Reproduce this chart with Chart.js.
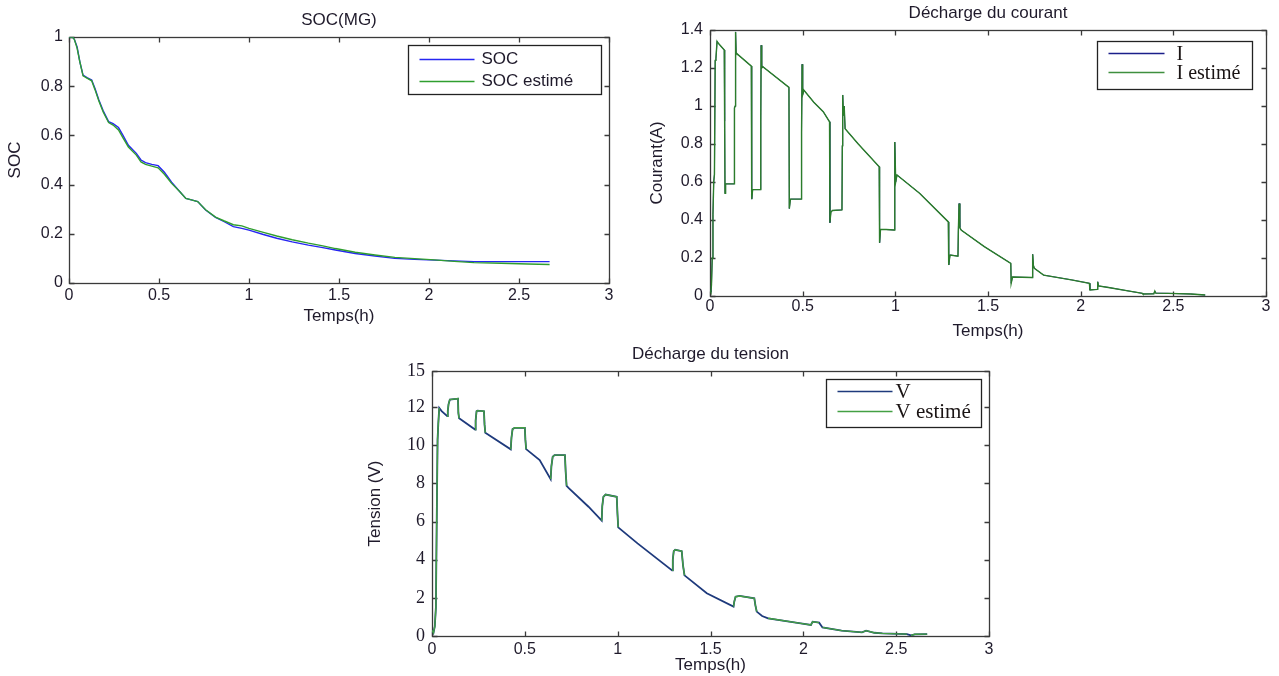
<!DOCTYPE html>
<html><head><meta charset="utf-8">
<script src="https://cdn.jsdelivr.net/npm/chart.js@4.4.0/dist/chart.umd.min.js"></script>
<style>
html,body{margin:0;padding:0;background:#fff;width:1279px;height:676px;overflow:hidden;position:relative;}
canvas{position:absolute;}
</style></head><body>
<canvas id="c1" width="630" height="330" style="left:0px;top:0px;width:630px;height:330px"></canvas>
<canvas id="c2" width="649" height="342" style="left:630px;top:0px;width:649px;height:342px"></canvas>
<canvas id="c3" width="640" height="336" style="left:360px;top:340px;width:640px;height:336px"></canvas>
<script>
// ---------- data ----------
const xTickStep = 0.5;          // Temps(h) axis: 0 .. 3
const timeMax = 3;

// SOC(MG)
const socTime = [0, 0.02, 0.03, 0.045, 0.06, 0.078, 0.1, 0.126, 0.145, 0.166, 0.19, 0.22, 0.245, 0.275, 0.3, 0.33, 0.374, 0.4, 0.425, 0.46, 0.495, 0.53, 0.57, 0.616, 0.649, 0.68, 0.715, 0.759, 0.814, 0.86, 0.913, 0.96, 1.0, 1.08, 1.154, 1.24, 1.33, 1.41, 1.48, 1.59, 1.7, 1.81, 1.92, 2.03, 2.14, 2.25, 2.4, 2.55, 2.67];
const socMeasured = [1, 1, 0.99, 0.96, 0.9, 0.845, 0.835, 0.825, 0.79, 0.744, 0.7, 0.656, 0.648, 0.632, 0.6, 0.56, 0.527, 0.5, 0.489, 0.482, 0.477, 0.45, 0.41, 0.371, 0.344, 0.338, 0.331, 0.297, 0.267, 0.25, 0.229, 0.222, 0.215, 0.197, 0.182, 0.167, 0.154, 0.144, 0.134, 0.12, 0.11, 0.1, 0.096, 0.093, 0.09, 0.087, 0.087, 0.087, 0.087];
const socEstimated = [1, 1, 0.99, 0.955, 0.9, 0.842, 0.833, 0.822, 0.785, 0.74, 0.695, 0.652, 0.642, 0.622, 0.59, 0.553, 0.52, 0.492, 0.482, 0.475, 0.468, 0.442, 0.405, 0.371, 0.344, 0.338, 0.331, 0.298, 0.268, 0.253, 0.237, 0.232, 0.222, 0.206, 0.191, 0.176, 0.162, 0.151, 0.14, 0.125, 0.114, 0.104, 0.099, 0.094, 0.088, 0.083, 0.08, 0.077, 0.075];

// Décharge du courant
const curTime = [0, 0.005, 0.008, 0.012, 0.016, 0.02, 0.024, 0.028, 0.032, 0.038, 0.045, 0.077, 0.079, 0.081, 0.084, 0.131, 0.132, 0.136, 0.138, 0.141, 0.143, 0.223, 0.225, 0.23, 0.272, 0.274, 0.276, 0.279, 0.285, 0.426, 0.428, 0.434, 0.492, 0.494, 0.497, 0.5, 0.506, 0.56, 0.611, 0.645, 0.647, 0.652, 0.66, 0.712, 0.714, 0.716, 0.72, 0.724, 0.729, 0.8, 0.913, 0.915, 0.92, 0.95, 0.994, 0.996, 0.998, 1.002, 1.009, 1.132, 1.286, 1.288, 1.295, 1.338, 1.34, 1.344, 1.348, 1.355, 1.48, 1.623, 1.625, 1.632, 1.738, 1.741, 1.745, 1.75, 1.8, 1.95, 2.047, 2.05, 2.09, 2.092, 2.096, 2.15, 2.248, 2.333, 2.336, 2.395, 2.4, 2.405, 2.472, 2.594, 2.672];
const curMeasured = [0.03, 0.02, 0.06, 0.2, 0.43, 0.6, 0.64, 1.24, 1.25, 1.34, 1.33, 1.295, 0.92, 0.54, 0.59, 0.59, 0.99, 1.0, 1.39, 1.28, 1.277, 1.21, 0.51, 0.56, 0.56, 0.93, 1.32, 1.2, 1.207, 1.098, 0.46, 0.51, 0.51, 0.86, 1.22, 1.06, 1.084, 1.02, 0.97, 0.917, 0.386, 0.44, 0.45, 0.453, 0.79, 1.058, 0.95, 1.0, 0.88, 0.8, 0.68, 0.28, 0.35, 0.35, 0.347, 0.57, 0.81, 0.6, 0.637, 0.54, 0.39, 0.163, 0.216, 0.21, 0.34, 0.487, 0.36, 0.347, 0.26, 0.172, 0.067, 0.1, 0.097, 0.22, 0.16, 0.146, 0.11, 0.085, 0.067, 0.032, 0.035, 0.075, 0.053, 0.045, 0.028, 0.014, 0.0105, 0.012, 0.026, 0.015, 0.014, 0.0105, 0.005];
const curEstimated = [0.03, 0.02, 0.06, 0.2, 0.43, 0.6, 0.64, 1.24, 1.25, 1.34, 1.33, 1.295, 0.92, 0.54, 0.59, 0.59, 0.99, 1.0, 1.39, 1.28, 1.277, 1.21, 0.51, 0.56, 0.56, 0.93, 1.32, 1.2, 1.207, 1.098, 0.46, 0.51, 0.51, 0.86, 1.22, 1.06, 1.084, 1.02, 0.97, 0.917, 0.386, 0.44, 0.45, 0.453, 0.79, 1.058, 0.95, 1.0, 0.88, 0.8, 0.68, 0.28, 0.35, 0.35, 0.347, 0.57, 0.81, 0.6, 0.637, 0.54, 0.39, 0.163, 0.216, 0.21, 0.34, 0.487, 0.36, 0.347, 0.26, 0.172, 0.067, 0.1, 0.097, 0.22, 0.16, 0.146, 0.11, 0.085, 0.067, 0.032, 0.035, 0.075, 0.053, 0.045, 0.028, 0.014, 0.0105, 0.012, 0.026, 0.015, 0.014, 0.0105, 0.005];

// Décharge du tension
const voltTime = [0, 0.008, 0.015, 0.021, 0.025, 0.03, 0.034, 0.039, 0.052, 0.082, 0.085, 0.089, 0.096, 0.14, 0.142, 0.146, 0.232, 0.235, 0.24, 0.245, 0.28, 0.283, 0.287, 0.424, 0.428, 0.434, 0.445, 0.5, 0.503, 0.507, 0.58, 0.639, 0.643, 0.65, 0.66, 0.716, 0.72, 0.725, 0.738, 0.843, 0.914, 0.917, 0.923, 0.935, 0.995, 0.999, 1.003, 1.107, 1.293, 1.297, 1.302, 1.31, 1.345, 1.352, 1.36, 1.48, 1.624, 1.628, 1.635, 1.657, 1.736, 1.742, 1.749, 1.778, 1.81, 1.986, 2.041, 2.05, 2.085, 2.103, 2.206, 2.316, 2.338, 2.382, 2.426, 2.558, 2.58, 2.6, 2.667];
const voltMeasured = [0.3, 0.17, 0.5, 1.5, 5.6, 10.3, 11.15, 11.96, 11.8, 11.53, 11.8, 12.15, 12.4, 12.45, 11.7, 11.42, 10.83, 11.3, 11.79, 11.82, 11.79, 11.1, 10.66, 9.79, 10.4, 10.85, 10.92, 10.92, 10.3, 9.8, 9.23, 8.23, 8.9, 9.4, 9.49, 9.49, 8.6, 7.88, 7.74, 6.78, 6.05, 6.8, 7.3, 7.42, 7.3, 6.4, 5.7, 4.86, 3.44, 4.0, 4.45, 4.52, 4.45, 3.7, 3.18, 2.24, 1.54, 1.8, 2.06, 2.1, 1.98, 1.6, 1.28, 1.05, 0.93, 0.66, 0.58, 0.75, 0.7, 0.45, 0.28, 0.19, 0.28, 0.17, 0.14, 0.1, 0.03, 0.09, 0.1];
const voltEstimated = [0.3, 0.17, 0.5, 1.5, 5.6, 10.3, 11.15, 11.96, 11.8, 11.53, 11.8, 12.15, 12.4, 12.45, 11.7, 11.42, 10.83, 11.3, 11.79, 11.82, 11.79, 11.1, 10.66, 9.79, 10.4, 10.85, 10.92, 10.92, 10.3, 9.8, 9.23, 8.23, 8.9, 9.4, 9.49, 9.49, 8.6, 7.88, 7.74, 6.78, 6.05, 6.8, 7.3, 7.42, 7.3, 6.4, 5.7, 4.86, 3.44, 4.0, 4.45, 4.52, 4.45, 3.7, 3.18, 2.24, 1.54, 1.8, 2.06, 2.1, 1.98, 1.6, 1.28, 1.05, 0.93, 0.66, 0.58, 0.75, 0.7, 0.45, 0.28, 0.19, 0.28, 0.17, 0.14, 0.1, 0.03, 0.09, 0.1];
// the tension axis of the original: ticks 0..12 by 2, its top edge labelled "15"
const voltAxisTop = 13.9;
const voltTickValues = [0, 2, 4, 6, 8, 10, 12, 13.9];
const voltTickLabels = ['0', '2', '4', '6', '8', '10', '12', '15'];

// ---------- helpers ----------
const SANS = 'Liberation Sans';
const SERIF = 'Liberation Serif';
const TXT = '#1f1a2b';
const pts = (xs, ys) => xs.map((x, i) => ({x, y: ys[i]}));
const plainNum = v => String(Math.round(v * 1000) / 1000);

const matlabFrame = {
  id: 'matlabFrame',
  beforeDatasetsDraw(chart, args, o) {
    const {ctx, chartArea: a, scales} = chart;
    const L = Math.round(a.left) + 0.5, R = Math.round(a.right) + 0.5;
    const T = Math.round(a.top) + 0.5, B = Math.round(a.bottom) + 0.5;
    ctx.save();
    ctx.strokeStyle = o.color; ctx.lineWidth = o.width;
    ctx.strokeRect(L, T, R - L, B - T);
    ctx.beginPath();
    scales.x.ticks.forEach(t => {
      const p = Math.round(scales.x.getPixelForValue(t.value)) + 0.5;
      ctx.moveTo(p, B); ctx.lineTo(p, B - o.len);
      ctx.moveTo(p, T); ctx.lineTo(p, T + o.len);
    });
    scales.y.ticks.forEach(t => {
      const p = Math.round(scales.y.getPixelForValue(t.value)) + 0.5;
      ctx.moveTo(L, p); ctx.lineTo(L + o.len, p);
      ctx.moveTo(R, p); ctx.lineTo(R - o.len, p);
    });
    ctx.stroke();
    ctx.restore();
  }
};

const boxLegend = {
  id: 'boxLegend',
  afterDraw(chart, args, o) {
    const {ctx, chartArea: a} = chart;
    const x0 = Math.round(a.right - o.insetRight - o.width) + 0.5;
    const y0 = Math.round(a.top + o.insetTop) + 0.5;
    ctx.save();
    ctx.fillStyle = '#fff';
    ctx.fillRect(x0, y0, o.width, o.height);
    ctx.strokeStyle = o.borderColor; ctx.lineWidth = o.borderWidth;
    ctx.strokeRect(x0, y0, o.width, o.height);
    ctx.font = o.font; ctx.textBaseline = 'middle'; ctx.textAlign = 'left';
    chart.data.datasets.forEach((ds, i) => {
      const y = Math.round(y0 + o.rows[i]) + 0.5;
      ctx.strokeStyle = ds.legendColor || ds.borderColor;
      ctx.lineWidth = o.lineWidth;
      ctx.beginPath();
      ctx.moveTo(x0 + o.lineStart, y); ctx.lineTo(x0 + o.lineStart + o.lineLen, y);
      ctx.stroke();
      ctx.fillStyle = o.textColor;
      ctx.fillText(ds.label, x0 + o.textStart, y + o.textDy);
    });
    ctx.restore();
  }
};

function xScale(h, tickPad, titlePadBottom, tickFont) {
  return {
    type: 'linear', min: 0, max: timeMax,
    ticks: {stepSize: xTickStep, padding: tickPad, color: TXT, font: tickFont, maxRotation: 0, callback: plainNum},
    grid: {display: false, drawTicks: false},
    border: {display: false},
    title: {display: true, text: 'Temps(h)', color: TXT, font: {family: SANS, size: 17},
            padding: {top: 0, bottom: titlePadBottom}},
    afterFit: s => { s.height = h; }
  };
}

// ---------- chart 1 : SOC(MG) ----------
new Chart(document.getElementById('c1'), {
  type: 'line',
  data: {datasets: [
    {label: 'SOC', data: pts(socTime, socMeasured), borderColor: '#2626f2', borderWidth: 1.4, pointRadius: 0, order: 1},
    {label: 'SOC estimé', data: pts(socTime, socEstimated), borderColor: '#2f9e2f', borderWidth: 1.4, pointRadius: 0, order: 0}
  ]},
  options: {
    responsive: false, animation: false, events: [],
    layout: {padding: {left: 0, right: 21, top: 0, bottom: 0}},
    scales: {
      x: xScale(47, 3.1, 3.3, {family: SANS, size: 16}),
      y: {
        type: 'linear', min: 0, max: 1,
        ticks: {stepSize: 0.2, padding: 6, color: TXT, font: {family: SANS, size: 16}, callback: plainNum},
        grid: {display: false, drawTicks: false}, border: {display: false},
        title: {display: true, text: 'SOC', color: TXT, font: {family: SANS, size: 17}, padding: {top: 5.3, bottom: 0}},
        afterFit: s => { s.width = 69; }
      }
    },
    plugins: {
      legend: {display: false}, tooltip: {enabled: false},
      title: {display: true, text: 'SOC(MG)', fullSize: false, color: TXT, font: {family: SANS, size: 17, weight: 'normal'}, padding: {top: 9.8, bottom: 6.8}},
      matlabFrame: {color: '#3a3a3a', width: 1.3, len: 5},
      boxLegend: {width: 193, height: 49, insetRight: 8, insetTop: 8, borderColor: '#222', borderWidth: 1.3,
                  font: '17px "Liberation Sans"', textColor: TXT, rows: [13.7, 35.7], lineStart: 11, lineLen: 55, lineWidth: 1.6, textStart: 73, textDy: 0}
    }
  },
  plugins: [matlabFrame, boxLegend]
});

// ---------- chart 2 : Décharge du courant ----------
new Chart(document.getElementById('c2'), {
  type: 'line',
  data: {datasets: [
    {label: 'I', data: pts(curTime, curMeasured), borderColor: '#1b1f8a', borderWidth: 0.9, pointRadius: 0, order: 1},
    {label: 'I estimé', data: pts(curTime, curEstimated), borderColor: '#2b7d2b', borderWidth: 1.4, pointRadius: 0, order: 0, legendColor: '#3f8f3f'}
  ]},
  options: {
    responsive: false, animation: false, events: [],
    layout: {padding: {left: 0, right: 13, top: 0, bottom: 0}},
    scales: {
      x: xScale(46, 1.4, 0.8, {family: SANS, size: 16}),
      y: {
        type: 'linear', min: 0, max: 1.4,
        ticks: {stepSize: 0.2, padding: 7, color: TXT, font: {family: SANS, size: 16}, callback: plainNum},
        grid: {display: false, drawTicks: false}, border: {display: false},
        title: {display: true, text: 'Courant(A)', color: TXT, font: {family: SANS, size: 17}, padding: {top: 17.4, bottom: 0}},
        afterFit: s => { s.width = 80; }
      }
    },
    plugins: {
      legend: {display: false}, tooltip: {enabled: false},
      title: {display: true, text: 'Décharge du courant', fullSize: false, color: TXT, font: {family: SANS, size: 17, weight: 'normal'}, padding: {top: 2.8, bottom: 6.8}},
      matlabFrame: {color: '#3a3a3a', width: 1.3, len: 5},
      boxLegend: {width: 155, height: 48, insetRight: 14, insetTop: 11, borderColor: '#222', borderWidth: 1.3,
                  font: '20px "Liberation Serif"', textColor: '#1a1414', rows: [11.7, 30.3], lineStart: 11, lineLen: 56, lineWidth: 1.4, textStart: 79, textDy: 1}
    }
  },
  plugins: [matlabFrame, boxLegend]
});

// ---------- chart 3 : Décharge du tension ----------
const vGreen = '#43a043';
new Chart(document.getElementById('c3'), {
  type: 'line',
  data: {datasets: [
    {label: 'V', data: pts(voltTime, voltMeasured), borderColor: '#1e3a7c', borderWidth: 1.8, pointRadius: 0, order: 1},
    {label: 'V estimé', data: pts(voltTime, voltEstimated), borderColor: vGreen, borderWidth: 1.4, pointRadius: 0, order: 0,
     segment: {borderColor: c => {
        const dx = c.p1.parsed.x - c.p0.parsed.x, dy = c.p1.parsed.y - c.p0.parsed.y;
        return (dx > 0.012 && dy / dx < -2.5) ? 'rgba(0,0,0,0)' : vGreen;
     }}}
  ]},
  options: {
    responsive: false, animation: false, events: [],
    layout: {padding: {left: 0, right: 11, top: 0, bottom: 0}},
    scales: {
      x: xScale(40, 4.4, 0, {family: SANS, size: 16}),
      y: {
        type: 'linear', min: 0, max: voltAxisTop,
        afterBuildTicks: s => { s.ticks = voltTickValues.map(v => ({value: v})); },
        ticks: {padding: 7, color: TXT, font: {family: SERIF, size: 18}, callback: (v, i) => voltTickLabels[i]},
        grid: {display: false, drawTicks: false}, border: {display: false},
        title: {display: true, text: 'Tension (V)', color: TXT, font: {family: SANS, size: 17}, padding: {top: 4.8, bottom: 0}},
        afterFit: s => { s.width = 72; }
      }
    },
    plugins: {
      legend: {display: false}, tooltip: {enabled: false},
      title: {display: true, text: 'Décharge du tension', fullSize: false, color: TXT, font: {family: SANS, size: 17, weight: 'normal'}, padding: {top: 3.8, bottom: 6.8}},
      matlabFrame: {color: '#3a3a3a', width: 1.3, len: 5},
      boxLegend: {width: 155, height: 48, insetRight: 8, insetTop: 8, borderColor: '#222', borderWidth: 1.3,
                  font: '21px "Liberation Serif"', textColor: '#1a1414', rows: [11, 31.7], lineStart: 11, lineLen: 55, lineWidth: 1.4, textStart: 69, textDy: 1}
    }
  },
  plugins: [matlabFrame, boxLegend]
});
</script>
</body></html>
